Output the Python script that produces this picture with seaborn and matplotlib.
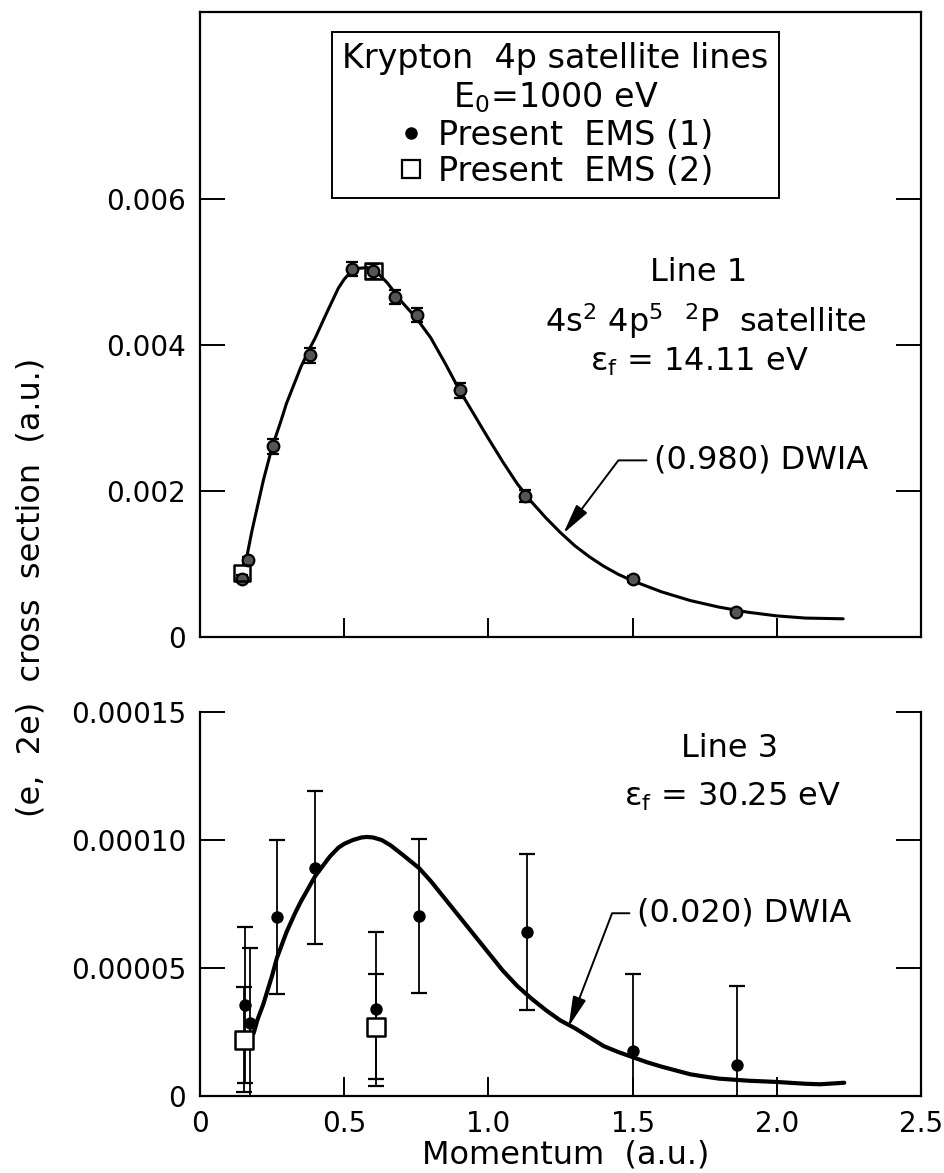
import numpy as np
import pandas as pd
import matplotlib
matplotlib.use("Agg")
import matplotlib.pyplot as plt
from matplotlib.lines import Line2D
import seaborn as sns

# === Line 1 (top panel) ===
l1_ems1_x = [0.145, 0.165, 0.253, 0.383, 0.528, 0.601, 0.675, 0.752, 0.903, 1.126, 1.500, 1.857]
l1_ems1_y = [0.00080, 0.00105, 0.00261, 0.00386, 0.00504, 0.00501, 0.00466, 0.00441, 0.00338, 0.00193, 0.00079, 0.00035]
l1_ems1_err = [0.00005, 0.00005, 0.0001, 0.0001, 0.0001, 0.0001, 0.0001, 0.0001, 0.0001, 0.00008, 0.00004, 0.00003]
l1_ems2_x = [0.145, 0.601]
l1_ems2_y = [0.00088, 0.00501]
l1_dwia_x = [0.16, 0.18, 0.20, 0.22, 0.25, 0.28, 0.30, 0.33, 0.35, 0.38, 0.40, 0.43, 0.45, 0.48,
             0.50, 0.52, 0.55, 0.58, 0.60, 0.62, 0.65, 0.70, 0.75, 0.80, 0.85, 0.90, 0.95, 1.00,
             1.05, 1.10, 1.15, 1.20, 1.25, 1.30, 1.35, 1.40, 1.45, 1.50, 1.60, 1.70, 1.80, 1.90,
             2.00, 2.10, 2.23]
l1_dwia_y = [0.00105, 0.00145, 0.0018, 0.00215, 0.0026, 0.00295, 0.0032, 0.0035, 0.0037, 0.00395,
             0.0041, 0.00436, 0.00453, 0.00478, 0.0049, 0.00499, 0.00505, 0.00506, 0.00503,
             0.00497, 0.00485, 0.00459, 0.00437, 0.0041, 0.00375, 0.00338, 0.00305, 0.00272,
             0.0024, 0.0021, 0.00185, 0.00163, 0.00143, 0.00125, 0.0011, 0.00097, 0.00086,
             0.00077, 0.00062, 0.0005, 0.00041, 0.00034, 0.00029, 0.00026, 0.00025]

# === Line 3 (bottom panel) ===
l3_ems1_x = [0.157, 0.174, 0.267, 0.400, 0.609, 0.760, 1.133, 1.501, 1.863]
l3_ems1_y = [3.55e-5, 2.85e-5, 7.0e-5, 8.92e-5, 3.39e-5, 7.04e-5, 6.42e-5, 1.77e-5, 1.21e-5]
l3_ems1_err = [3.05e-5, 2.95e-5, 3.0e-5, 3.0e-5, 3.0e-5, 3.0e-5, 3.05e-5, 3.0e-5, 3.1e-5]
l3_ems2_x = [0.151, 0.609]
l3_ems2_y = [2.19e-5, 2.71e-5]
l3_ems2_err = [2.05e-5, 2.04e-5]
l3_dwia_x = [0.186, 0.20, 0.22, 0.25, 0.267, 0.30, 0.33, 0.35, 0.38, 0.40, 0.43, 0.45, 0.48, 0.50,
             0.53, 0.56, 0.58, 0.60, 0.63, 0.66, 0.70, 0.76, 0.80, 0.85, 0.90, 0.95, 1.00, 1.05,
             1.10, 1.15, 1.20, 1.25, 1.30, 1.35, 1.40, 1.45, 1.50, 1.55, 1.60, 1.65, 1.70, 1.75,
             1.80, 1.90, 2.00, 2.10, 2.15, 2.234]
l3_dwia_y = [2.45e-5, 3.0e-5, 3.6e-5, 4.7e-5, 5.4e-5, 6.4e-5, 7.15e-5, 7.6e-5, 8.2e-5, 8.6e-5,
             9.05e-5, 9.35e-5, 9.7e-5, 9.85e-5, 10.0e-5, 10.1e-5, 10.12e-5, 10.1e-5, 10.0e-5,
             9.8e-5, 9.45e-5, 8.9e-5, 8.4e-5, 7.7e-5, 7.0e-5, 6.3e-5, 5.6e-5, 4.9e-5, 4.3e-5,
             3.8e-5, 3.35e-5, 2.95e-5, 2.65e-5, 2.3e-5, 1.95e-5, 1.72e-5, 1.52e-5, 1.32e-5,
             1.15e-5, 1.0e-5, 0.85e-5, 0.76e-5, 0.68e-5, 0.6e-5, 0.55e-5, 0.48e-5, 0.46e-5,
             0.52e-5]

x_ticks = [0, 0.5, 1.0, 1.5, 2.0, 2.5]
x_labels = ["0", "0.5", "1.0", "1.5", "2.0", "2.5"]
top_yticks = [0, 0.002, 0.004, 0.006]
top_ylabels = ["0", "0.002", "0.004", "0.006"]
bot_yticks = [0, 0.00005, 0.00010, 0.00015]
bot_ylabels = ["0", "0.00005", "0.00010", "0.00015"]

sns.set_theme(style="ticks")
plt.rcParams["font.family"] = ["DejaVu Sans"]
plt.rcParams["mathtext.fontset"] = "dejavusans"
for key in ["text.color", "axes.labelcolor", "xtick.color", "ytick.color", "axes.edgecolor"]:
    plt.rcParams[key] = "black"
FS_TICK = 20
FS = 23

fig = plt.figure(figsize=(9.45, 11.73), dpi=100)
ax1 = fig.add_axes([0.2116, 0.4569, 0.763, 0.5328])
ax2 = fig.add_axes([0.2116, 0.0656, 0.763, 0.3274])


def style_axis(ax):
    for s in ax.spines.values():
        s.set_linewidth(1.6)
        s.set_color("black")
    ax.tick_params(axis="y", which="major", direction="in", length=18, width=1.4,
                   left=True, right=True, labelsize=FS_TICK, pad=10, colors="black")
    ax.tick_params(axis="x", which="major", direction="in", length=14, width=1.4,
                   bottom=True, top=False, labelsize=FS_TICK, pad=10, colors="black")
    ax.set_xlim(0, 2.5)
    ax.set_xticks(x_ticks)


arrow_kw = dict(arrowstyle="-|>,head_length=0.8,head_width=0.18", color="black",
                lw=1.4, shrinkA=3, shrinkB=0)

# ---- top panel ----
top1 = pd.DataFrame({"x": l1_ems1_x, "y": l1_ems1_y})
top2 = pd.DataFrame({"x": l1_ems2_x, "y": l1_ems2_y})
topc = pd.DataFrame({"x": l1_dwia_x, "y": l1_dwia_y})

sns.lineplot(data=topc, x="x", y="y", ax=ax1, color="black", lw=2.2, zorder=2)
ax1.errorbar(l1_ems1_x, l1_ems1_y, yerr=l1_ems1_err, fmt="none", ecolor="black",
             elinewidth=1.3, capsize=4, capthick=1.6, zorder=3)
sns.scatterplot(data=top1, x="x", y="y", ax=ax1, marker="o", color="#555555", edgecolor="black",
                s=70, linewidth=1.6, zorder=4, legend=False)
sns.scatterplot(data=top2, x="x", y="y", ax=ax1, marker="s", color="none", edgecolor="black",
                s=140, linewidth=1.8, zorder=5, legend=False)

style_axis(ax1)
ax1.set_ylim(0, 0.00856)
ax1.set_yticks(top_yticks)
ax1.set_yticklabels(top_ylabels)
ax1.set_xticklabels([])
ax1.set_xlabel("")
ax1.set_ylabel("")

ax1.text(1.73, 0.0050, "Line 1", ha="center", va="center", fontsize=FS)
ax1.text(1.755, 0.00432, "4s$^2$ 4p$^5$  $^2$P  satellite", ha="center", va="center", fontsize=FS)
ax1.text(1.73, 0.00377, "ε$_\\mathrm{f}$ = 14.11 eV", ha="center", va="center", fontsize=FS)
ax1.annotate("(0.980) DWIA", xy=(1.26, 0.00142), xytext=(1.574, 0.00242),
             ha="left", va="center", fontsize=FS,
             arrowprops=dict(connectionstyle="angle,angleA=0,angleB=53,rad=0", **arrow_kw))

handles = [
    Line2D([], [], marker="o", ls="", color="black", markersize=8),
    Line2D([], [], marker="s", ls="", markerfacecolor="white", markeredgecolor="black",
           markeredgewidth=1.6, markersize=13),
]
leg = ax1.legend(handles, ["Present  EMS (1)", "Present  EMS (2)"],
                 title="Krypton  4p satellite lines\nE$_0$=1000 eV",
                 loc="upper center", bbox_to_anchor=(0.493, 0.968), borderaxespad=0,
                 fontsize=FS + 1, title_fontsize=FS + 1, frameon=True, fancybox=False,
                 framealpha=1, edgecolor="black", handlelength=0.8, handletextpad=0.4,
                 labelspacing=0.1, borderpad=0.3, alignment="center")
leg.get_frame().set_linewidth(1.4)
leg.get_title().set_multialignment("center")

# ---- bottom panel ----
bot1 = pd.DataFrame({"x": l3_ems1_x, "y": l3_ems1_y})
bot2 = pd.DataFrame({"x": l3_ems2_x, "y": l3_ems2_y})
botc = pd.DataFrame({"x": l3_dwia_x, "y": l3_dwia_y})

sns.lineplot(data=botc, x="x", y="y", ax=ax2, color="black", lw=3.0, zorder=2)
ax2.errorbar(l3_ems1_x, l3_ems1_y, yerr=l3_ems1_err, fmt="none", ecolor="black",
             elinewidth=1.3, capsize=6, capthick=1.6, zorder=3)
ax2.errorbar(l3_ems2_x, l3_ems2_y, yerr=l3_ems2_err, fmt="none", ecolor="black",
             elinewidth=1.3, capsize=6, capthick=1.6, zorder=3)
sns.scatterplot(data=bot1, x="x", y="y", ax=ax2, marker="o", color="black", s=80,
                linewidth=0, zorder=4, legend=False)
sns.scatterplot(data=bot2, x="x", y="y", ax=ax2, marker="s", color="white", edgecolor="black",
                s=170, linewidth=1.8, zorder=5, legend=False)

style_axis(ax2)
ax2.spines["top"].set_visible(False)
ax2.set_ylim(0, 0.00015)
ax2.set_yticks(bot_yticks)
ax2.set_yticklabels(bot_ylabels)
ax2.set_xticklabels(x_labels)
ax2.set_xlabel("")
ax2.set_ylabel("")

ax2.text(1.835, 1.358e-4, "Line 3", ha="center", va="center", fontsize=FS)
ax2.text(1.845, 1.17e-4, "ε$_\\mathrm{f}$ = 30.25 eV", ha="center", va="center", fontsize=FS)
ax2.annotate("(0.020) DWIA", xy=(1.278, 2.71e-5), xytext=(1.515, 7.14e-5),
             ha="left", va="center", fontsize=FS,
             arrowprops=dict(connectionstyle="angle,angleA=0,angleB=69,rad=0", **arrow_kw))

fig.text(0.599, 0.002, "Momentum  (a.u.)", ha="center", va="bottom", fontsize=FS)
fig.text(0.033, 0.499, "(e,  2e)  cross  section  (a.u.)", rotation=90, ha="center",
         va="center", fontsize=FS)

fig.savefig("out.png", dpi=100)
